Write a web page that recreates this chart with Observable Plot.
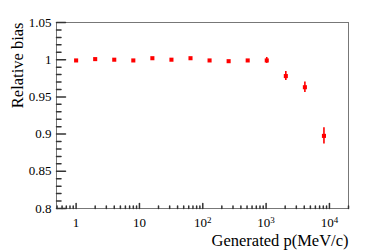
<!DOCTYPE html>
<html>
<head>
<meta charset="utf-8">
<script src="https://cdn.jsdelivr.net/npm/d3@7"></script>
<script src="https://cdn.jsdelivr.net/npm/@observablehq/plot@0.6"></script>
<style>
  html, body { margin: 0; padding: 0; background: #fff; }
  #chart svg { display: block; }
</style>
</head>
<body>
<div id="chart"></div>
<script>
// Data
const momentum = [1, 2, 4, 8, 16, 32, 64, 128, 256, 512, 1024, 2048, 4096, 8192];
const bias     = [0.999, 1.0008, 1.0, 0.999, 1.002, 1.0, 1.002, 0.999, 0.998, 0.999, 0.999, 0.978, 0.963, 0.8976];
const biasErr  = [0.0008, 0.0008, 0.0008, 0.0008, 0.0008, 0.0008, 0.0008, 0.0008, 0.0008, 0.0008, 0.004, 0.006, 0.007, 0.011];

const yMajorTicks = [0.8, 0.85, 0.9, 0.95, 1, 1.05];
const yTickLabels = ["0.8", "0.85", "0.9", "0.95", "1", "1.05"];
const xMajorTicks = [1, 10, 100, 1000, 10000];
const xTickBase   = ["1", "10", "10", "10", "10"];
const xTickExp    = ["", "", "2", "3", "4"];

const xTitle = "Generated p(MeV/c)";
const yTitle = "Relative bias";

const rows = momentum.map((p, i) => ({p, b: bias[i], lo: bias[i] - biasErr[i], hi: bias[i] + biasErr[i]}));

const yMinor = d3.range(80, 106).map(v => v / 100).filter(v => !yMajorTicks.some(t => Math.abs(t - v) < 1e-9));
const xMinor = [];
for (const dec of [0.1, 1, 10, 100, 1000, 10000]) for (let k = 2; k <= 9; k++) {
  const v = dec * k; if (v >= 0.49 && v <= 20000) xMinor.push(v);
}

const font = "'Liberation Serif', 'DejaVu Serif', serif";
const red = "#ff0000";
const tickShape = {draw(context, l) { context.moveTo(0, 0); context.lineTo(0, -l); }};

const chart = Plot.plot({
  width: 374,
  height: 252,
  marginLeft: 56,
  marginRight: 26,
  marginTop: 22,
  marginBottom: 44,
  style: {fontFamily: font, background: "#fff", color: "#000"},
  x: {type: "log", domain: [0.49, 20000], axis: null},
  y: {domain: [0.8, 1.05], axis: null},
  marks: [
    Plot.frame({stroke: "#777", strokeWidth: 1}),
    // y ticks (inward)
    Plot.vector(yMajorTicks, {y: d => d, frameAnchor: "left", length: 9, rotate: 90, anchor: "start", shape: tickShape, stroke: "#333"}),
    Plot.vector(yMinor, {y: d => d, frameAnchor: "left", length: 4.5, rotate: 90, anchor: "start", shape: tickShape, stroke: "#333"}),
    // x ticks (inward)
    Plot.vector(xMajorTicks, {x: d => d, frameAnchor: "bottom", length: 5, rotate: 0, anchor: "start", shape: tickShape, stroke: "#333"}),
    Plot.vector(xMinor, {x: d => d, frameAnchor: "bottom", length: 2.5, rotate: 0, anchor: "start", shape: tickShape, stroke: "#333"}),
    // tick labels
    Plot.axisY({ticks: yMajorTicks, tickSize: 0, tickPadding: 5, fontSize: 13,
      tickFormat: d => yTickLabels[yMajorTicks.indexOf(d)], label: null}),
    Plot.axisX({ticks: xMajorTicks, tickSize: 0, tickPadding: 9, fontSize: 13,
      tickFormat: d => xTickBase[xMajorTicks.indexOf(d)] + (xTickExp[xMajorTicks.indexOf(d)] ? "^" + xTickExp[xMajorTicks.indexOf(d)] : ""),
      label: null}),
    // titles
    Plot.text([xTitle], {frameAnchor: "bottom-right", text: d => d, dy: 37, textAnchor: "end", fontSize: 16.5, fill: "#000"}),
    Plot.text([yTitle], {frameAnchor: "top-left", text: d => d, rotate: -90, textAnchor: "end", dx: -45, fontSize: 16.5, fill: "#000"}),
    // data
    Plot.ruleX(rows, {x: "p", y1: "lo", y2: "hi", stroke: red, strokeWidth: 1.6}),
    Plot.dot(rows, {x: "p", y: "b", symbol: "square", r: 2.3, fill: red, stroke: "none"})
  ]
});

// render superscripts for the x tick labels
d3.select(chart).selectAll("text").each(function() {
  const t = this.textContent;
  const i = t.indexOf("^");
  if (i >= 0) {
    const base = t.slice(0, i), exp = t.slice(i + 1);
    const sel = d3.select(this);
    sel.text(null);
    sel.append("tspan").text(base);
    sel.append("tspan").attr("dy", "-0.45em").attr("font-size", "9px").text(exp);
  }
});

document.getElementById("chart").appendChild(chart);
</script>
</body>
</html>
